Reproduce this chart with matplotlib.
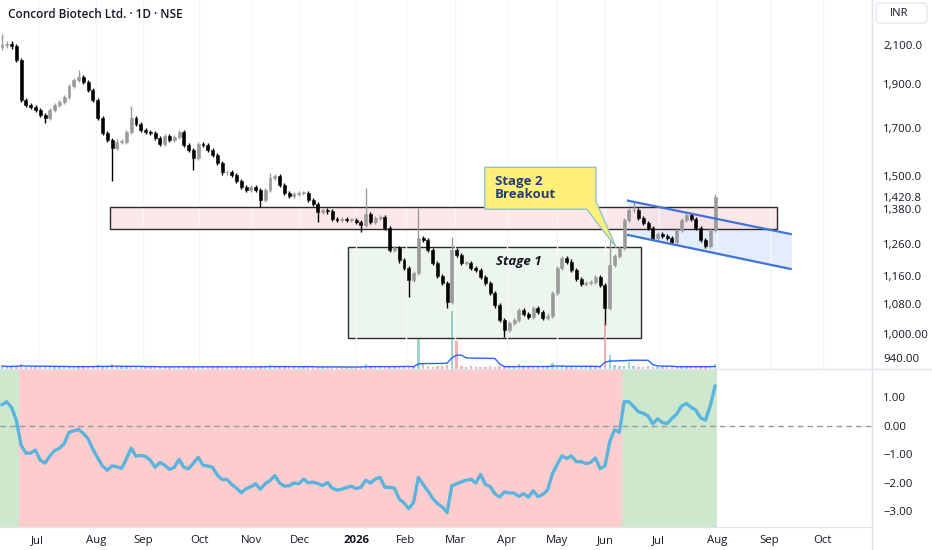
import matplotlib
matplotlib.use('Agg')
import matplotlib.pyplot as plt
import numpy as np
import pandas as pd
from matplotlib.patches import Rectangle, Polygon, FancyBboxPatch
from matplotlib.transforms import IdentityTransform
from matplotlib.ticker import FixedLocator, FixedFormatter, NullLocator

plt.rcParams['font.family'] = ['Open Sans', 'DejaVu Sans']

# ---- data (bar = about two trading days) ----
closes = [
    2100, 2110, 2095, 2023, 1825, 1802, 1792, 1779, 1756, 1742,
    1779, 1802, 1815, 1839, 1892, 1921, 1936, 1911, 1873, 1825,
    1742, 1677, 1647, 1613, 1639, 1639, 1681, 1742, 1716, 1690,
    1681, 1677, 1655, 1630, 1664, 1647, 1660, 1681, 1626, 1605,
    1572, 1630, 1626, 1605, 1584, 1552, 1516, 1516, 1505, 1482,
    1459, 1448, 1459, 1448, 1411, 1448, 1494, 1501, 1467, 1437,
    1426, 1433, 1437, 1437, 1411, 1397, 1368, 1375, 1371, 1344,
    1341, 1344, 1341, 1341, 1334, 1323, 1361, 1334, 1347, 1351,
    1313, 1241, 1247, 1209, 1185, 1149, 1170, 1280, 1273, 1241,
    1200, 1161, 1140, 1086, 1241, 1225, 1200, 1200, 1185, 1179,
    1158, 1140, 1111, 1077, 1037, 1010, 1029, 1037, 1064, 1053,
    1045, 1069, 1058, 1042, 1048, 1111, 1185, 1216, 1204, 1179,
    1152, 1137, 1140, 1143, 1158, 1134, 1069, 1194, 1222, 1247,
    1341, 1375, 1375, 1347, 1330, 1313, 1280, 1293, 1287, 1280,
    1267, 1307, 1341, 1358, 1344, 1313, 1273, 1254, 1307, 1420.8,
]
first_open = 2090
wick_highs = {0: 2160, 16: 1971, 27: 1797, 56: 1513, 76: 1455, 87: 1382,
              94: 1283, 127: 1273, 132: 1404, 149: 1435}
wick_lows = {9: 1722, 23: 1483, 40: 1524, 54: 1386, 66: 1334, 75: 1300,
             85: 1100, 93: 1069, 105: 992, 126: 1023}
WICK_PAD = 0.006

volume = [
    3, 2, 3, 3, 5, 2, 2, 3, 2, 3,
    2, 2, 2, 3, 3, 2, 2, 3, 2, 3,
    4, 2, 2, 5, 2, 2, 2, 3, 2, 2,
    2, 2, 2, 3, 2, 2, 2, 3, 2, 2,
    3, 2, 2, 2, 2, 3, 2, 2, 2, 3,
    2, 2, 2, 2, 3, 2, 4, 2, 2, 2,
    2, 2, 2, 2, 3, 2, 2, 2, 2, 2,
    2, 2, 2, 2, 2, 2, 5, 2, 2, 2,
    2, 3, 2, 2, 3, 3, 2, 30, 5, 3,
    2, 3, 3, 4, 58, 28, 3, 2, 3, 2,
    2, 2, 3, 2, 3, 2, 2, 2, 5, 2,
    3, 2, 2, 2, 3, 6, 2, 3, 2, 2,
    2, 3, 2, 2, 3, 2, 47, 14, 4, 3,
    3, 7, 3, 2, 2, 3, 2, 2, 2, 3,
    2, 2, 3, 2, 2, 2, 2, 2, 3, 5,
]

indicator = [
    0.75, 0.85, 0.65, 0.20, -0.68, -0.95, -0.95, -0.85, -1.20, -1.30,
    -1.05, -0.86, -0.78, -0.62, -0.22, -0.17, -0.12, -0.26, -0.45, -0.82,
    -1.12, -1.40, -1.55, -1.40, -1.43, -1.49, -1.15, -0.78, -1.06, -1.03,
    -1.07, -1.20, -1.45, -1.28, -1.38, -1.52, -1.45, -1.17, -1.45, -1.50,
    -1.30, -1.10, -1.38, -1.40, -1.45, -1.72, -1.88, -1.87, -2.05, -2.18,
    -2.34, -2.20, -2.13, -2.03, -2.22, -2.02, -1.92, -1.74, -2.00, -2.11,
    -2.10, -2.00, -2.03, -1.86, -1.99, -1.97, -2.02, -2.09, -1.98, -2.18,
    -2.25, -2.22, -2.16, -2.11, -2.20, -2.15, -1.90, -2.00, -1.86, -1.80,
    -2.15, -2.15, -2.18, -2.56, -2.70, -2.90, -2.68, -1.80, -2.05, -2.28,
    -2.54, -2.72, -2.84, -3.04, -2.10, -2.03, -1.96, -1.90, -1.87, -2.00,
    -1.70, -2.05, -2.12, -2.38, -2.49, -2.31, -2.35, -2.35, -2.47, -2.37,
    -2.50, -2.27, -2.48, -2.40, -2.25, -1.68, -1.35, -1.05, -1.14, -1.05,
    -1.25, -1.25, -1.32, -1.28, -1.12, -1.50, -1.40, -0.55, -0.13, -0.22,
    0.85, 0.85, 0.68, 0.50, 0.45, 0.35, 0.08, 0.25, 0.12, 0.09,
    0.27, 0.42, 0.70, 0.79, 0.66, 0.55, 0.28, 0.21, 0.71, 1.40,
]

# drawn levels
zone_x = [22.6, 162.0]
zone_prices = [1310, 1385]
base_x = [72.2, 133.5]
base_prices = [989, 1250]
channel_x = [130.8, 164.8]
channel_upper = [1409, 1293]
channel_lower = [1290, 1182]

price_ticks = [2100, 1900, 1700, 1500, 1420.8, 1380, 1260, 1160, 1080, 1000, 940]
price_labels = ['2,100.0', '1,900.0', '1,700.0', '1,500.0', '1,420.8', '1,380.0',
                '1,260.0', '1,160.0', '1,080.0', '1,000.00', '940.00']
ind_ticks = [1, 0, -1, -2, -3]
ind_labels = ['1.00', '0.00', '\u22121.00', '\u22122.00', '\u22123.00']
month_pos = [7.5, 19.6, 29.5, 41.2, 52.2, 62.3, 74.0, 84.4, 94.7, 105.5,
             116.0, 126.1, 137.2, 149.4, 160.4, 171.5]
month_labels = ['Jul', 'Aug', 'Sep', 'Oct', 'Nov', 'Dec', '2026', 'Feb', 'Mar',
                'Apr', 'May', 'Jun', 'Jul', 'Aug', 'Sep', 'Oct']

TXT = '#131722'
GRID = '#e0e3eb'
W, H = 932, 550


def fy(py):
    return 1 - py / H


fig = plt.figure(figsize=(W / 100, H / 100), dpi=100)
ax_p = fig.add_axes([0, fy(369), 872 / W, 369 / H])
ax_v = fig.add_axes([0, fy(369), 872 / W, 69 / H], sharex=ax_p)
ax_i = fig.add_axes([0, fy(527), 872 / W, 158 / H], sharex=ax_p)

n = len(closes)
x = np.arange(n)
closes_a = np.array(closes, dtype=float)
opens = np.concatenate([[first_open], closes_a[:-1]])
highs = np.maximum(opens, closes_a) * (1 + WICK_PAD)
lows = np.minimum(opens, closes_a) * (1 - WICK_PAD)
for k, v in wick_highs.items():
    highs[k] = v
for k, v in wick_lows.items():
    lows[k] = v
up = closes_a >= opens
col = np.where(up, '#9a9a9a', '#000000')

# price panel
ax_p.set_yscale('log')
ax_p.set_xlim(-0.42, 181.8)
ax_p.set_ylim(914, 2360)

ax_p.fill_between(channel_x, channel_lower, channel_upper, color='#e4edfb', zorder=1)
ax_p.plot(channel_x, channel_upper, color='#3f74d8', lw=1.6, zorder=4)
ax_p.plot(channel_x, channel_lower, color='#3f74d8', lw=1.6, zorder=4)
ax_p.add_patch(Rectangle((zone_x[0], zone_prices[0]), zone_x[1] - zone_x[0],
                         zone_prices[1] - zone_prices[0], fc='#fbdfe2', alpha=0.75,
                         ec='none', zorder=1.5))
ax_p.add_patch(Rectangle((zone_x[0], zone_prices[0]), zone_x[1] - zone_x[0],
                         zone_prices[1] - zone_prices[0], fc='none', ec='#2b2b2b',
                         lw=1, zorder=2))
ax_p.add_patch(Rectangle((base_x[0], base_prices[0]), base_x[1] - base_x[0],
                         base_prices[1] - base_prices[0], fc='#edf6ed', ec='#2b2b2b',
                         lw=1, zorder=1.5))

ax_p.vlines(x, lows, highs, colors=col, lw=1, zorder=3)
body_lo = np.minimum(opens, closes_a)
body_h = np.maximum(np.abs(closes_a - opens), 2)
ax_p.bar(x, body_h, bottom=body_lo, width=0.62, color=col, edgecolor=col,
         lw=0.4, zorder=3)

ax_p.text(108.0, 1206, 'Stage 1', fontsize=9.5, fontweight='bold', style='italic',
          color=TXT, ha='center', va='center', zorder=5)

# callout
callout = Polygon([(100.9, 1535), (124.1, 1535), (124.1, 1406), (128.3, 1250),
                   (122.2, 1378), (100.9, 1378)], closed=True, fc='#fff07a',
                  ec='#8ec3c8', lw=1, joinstyle='round', zorder=6)
ax_p.add_patch(callout)
ax_p.text(103.0, 1455, 'Stage 2\nBreakout', fontsize=9.5, fontweight='bold',
          color='#263f74', ha='left', va='center', linespacing=1.0, zorder=7)

ax_p.yaxis.tick_right()
ax_p.yaxis.set_major_locator(FixedLocator(price_ticks))
ax_p.yaxis.set_major_formatter(FixedFormatter(price_labels))
ax_p.yaxis.set_minor_locator(NullLocator())
ax_p.tick_params(axis='y', length=0, pad=8, labelsize=8.2, labelcolor=TXT)
ax_p.tick_params(axis='x', length=0, labelbottom=False)
ax_p.xaxis.set_major_locator(FixedLocator(month_pos))
ax_p.grid(axis='x', color='#f5f6f8', lw=1)
for s in ['top', 'left', 'bottom']:
    ax_p.spines[s].set_visible(False)
ax_p.spines['right'].set_color(GRID)

# volume overlay
vol_ma = pd.Series(volume).rolling(10, min_periods=1).mean()
vcol = np.where(up, '#26a69a', '#ef5350')
ax_v.bar(x, volume, width=0.5, color=vcol, alpha=0.45, zorder=2)
ax_v.plot(x, vol_ma, color='#2962ff', lw=1, zorder=3)
ax_v.set_ylim(0, 69)
ax_v.patch.set_visible(False)
ax_v.axis('off')

# indicator panel
ind = np.array(indicator)
for i in range(n):
    c = '#cde8cd' if ind[i] >= 0 else '#fdcccc'
    ax_i.axvspan(i - 0.5, i + 0.5, color=c, lw=0, zorder=0)
ax_i.axhline(0, color='#9598a1', lw=1, ls=(0, (4, 3)), zorder=1)
ax_i.plot(x, ind, color='#5ab4e0', lw=2.4, zorder=2, solid_joinstyle='round')
ax_i.set_ylim(-3.544, 2.0)
ax_i.yaxis.tick_right()
ax_i.set_yticks(ind_ticks)
ax_i.set_yticklabels(ind_labels)
ax_i.tick_params(axis='y', length=0, pad=8, labelsize=8.2, labelcolor=TXT)
ax_i.set_xticks(month_pos)
ax_i.set_xticklabels(month_labels)
ax_i.tick_params(axis='x', length=0, pad=6, labelsize=8.2, labelcolor=TXT)
for lab in ax_i.get_xticklabels():
    if lab.get_text() == '2026':
        lab.set_fontweight('bold')
ax_i.grid(False)
for s in ['top', 'left']:
    ax_i.spines[s].set_visible(False)
ax_i.spines['right'].set_color(GRID)
ax_i.spines['bottom'].set_color(GRID)

# frame lines and header
fig.add_artist(plt.Line2D([0, 1], [fy(369), fy(369)], color=GRID, lw=1,
                          transform=fig.transFigure))
fig.add_artist(plt.Line2D([872 / W, 872 / W], [0, 1], color=GRID, lw=1,
                          transform=fig.transFigure))
fig.add_artist(FancyBboxPatch((876, H - 23), 51, 20,
                              boxstyle='round,pad=0,rounding_size=4',
                              fc='white', ec='#e6e8ee', lw=1,
                              transform=IdentityTransform()))
fig.text(890 / W, fy(13), 'INR', fontsize=8, color=TXT, va='center')
fig.text(8 / W, fy(14), 'Concord Biotech Ltd. \u00b7 1D \u00b7 NSE', fontsize=8.5,
         fontweight='semibold', color=TXT, va='center')

fig.savefig('out.png', dpi=100, facecolor='white')
